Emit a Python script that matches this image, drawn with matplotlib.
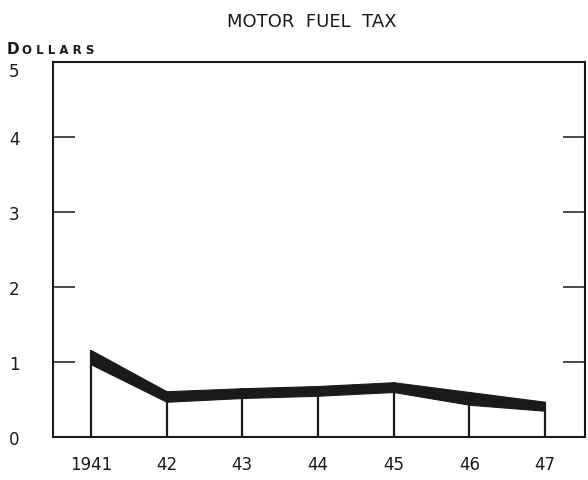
import numpy as np
import matplotlib
matplotlib.use("Agg")
import matplotlib.pyplot as plt
import matplotlib.transforms as mtransforms

# values (dollars)
years = [1941, 1942, 1943, 1944, 1945, 1946, 1947]
year_labels = ["1941", "42", "43", "44", "45", "46", "47"]
upper = [1.16, 0.61, 0.65, 0.68, 0.73, 0.60, 0.47]
lower = [0.97, 0.47, 0.52, 0.55, 0.60, 0.43, 0.35]

ink = "#1a1a1a"

fig = plt.figure(figsize=(5.88, 4.81), dpi=100)
ax = fig.add_axes([0.0901, 0.0894, 0.9049, 0.7796])

ax.fill_between(years, lower, upper, color=ink, linewidth=0.8, edgecolor=ink)
ax.vlines(years, 0, upper, colors=ink, linewidth=1.6)

ax.set_xlim(1940.5, 1947.53)
ax.set_ylim(0, 5)

ax.set_xticks(years)
ax.set_xticklabels(year_labels)
ax.tick_params(axis="x", length=0, pad=13, labelsize=12, colors=ink)

ax.set_yticks([0, 1, 2, 3, 4, 5])
ax.set_yticklabels(["0", "1", "2", "3", "4", "5"])
ax.tick_params(axis="y", direction="in", length=16, width=1.1, pad=24,
               labelsize=12, colors=ink, left=True, right=True)
# no tick marks at 0 and 5 (they sit on the frame)
for t in [ax.yaxis.get_major_ticks()[0], ax.yaxis.get_major_ticks()[-1]]:
    t.tick1line.set_visible(False)
    t.tick2line.set_visible(False)

# the "5" sits a little below the top of the frame in the original
lab5 = ax.get_yticklabels()[-1]
lab5.set_transform(lab5.get_transform() +
                   mtransforms.ScaledTranslation(0, -7 / 100, fig.dpi_scale_trans))

for s in ax.spines.values():
    s.set_linewidth(1.5)
    s.set_color(ink)

fig.text(0.53, 0.954, "MOTOR  FUEL  TAX", ha="center", va="center",
         fontsize=13, color=ink)
fig.text(0.012, 0.898, "D", ha="left", va="center", fontsize=11,
         fontweight="bold", color=ink)
fig.text(0.037, 0.896, "O L L A R S", ha="left", va="center", fontsize=8.5,
         fontweight="bold", color=ink)

fig.savefig("out.png", dpi=100)
